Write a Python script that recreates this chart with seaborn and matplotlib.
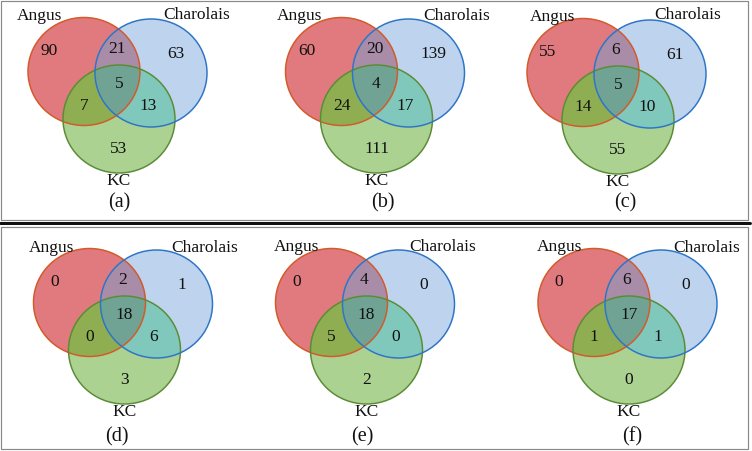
import numpy as np
import matplotlib.pyplot as plt
import seaborn as sns
from matplotlib.patches import Ellipse, Polygon

set_names = ["Angus", "Charolais", "KC"]
panel_tags = ["(a)", "(b)", "(c)", "(d)", "(e)", "(f)"]

# region counts, one entry per panel (a)..(f)
only_angus = [90, 60, 55, 0, 0, 0]
angus_charolais = [21, 20, 6, 2, 4, 6]
only_charolais = [63, 139, 61, 1, 0, 0]
all_three = [5, 4, 5, 18, 18, 17]
angus_kc = [7, 24, 14, 0, 5, 1]
charolais_kc = [13, 17, 10, 6, 0, 1]
only_kc = [53, 111, 55, 3, 2, 0]

sns.set_theme(style="white")
plt.rcParams["font.family"] = ["Liberation Serif", "DejaVu Serif"]

W, H = 752, 451
fig = plt.figure(figsize=(W / 100, H / 100), dpi=100)
ax = fig.add_axes([0, 0, 1, 1])
ax.set_xlim(0, W)
ax.set_ylim(H, 0)
ax.axis("off")

px = 0.72  # one pixel in points

# layout (pixel coords): KC circle centre for each panel
centres = [(119, 119), (376.5, 119), (618, 120), (124.5, 350), (366.5, 350), (629, 350)]
circle_off = {"Angus": (-35, -47.5), "Charolais": (32, -46), "KC": (0, 0)}
circle_w, circle_h = 112, 108

fill = {"Angus": "#e07a7e", "Charolais": "#bed4ee", "KC": "#acd292",
        "AC": "#a98ca8", "AK": "#8fae52", "CK": "#80c8bc", "ACK": "#70a394"}
edge = {"Angus": "#d35a2a", "Charolais": "#2e75c6", "KC": "#5b8c35"}

angus_lab = [(-79, -103), (-76.5, -103), (-65, -103), (-72.5, -102), (-69.5, -103), (-69, -103)]
char_lab = [(78, -104), (80.5, -103), (70, -105), (80.5, -102), (76.5, -103), (78, -102)]
tag_off = [(0, 84), (6.5, 84), (7, 83), (-7.5, 87), (-4.5, 87), (3, 87)]

region_off = [(-70, -68), (-2, -70), (57, -65), (0, -35), (-35, -13), (29, -13), (0, 30)]


def inside(pts, c):
    return ((pts[:, 0] - c[0]) / (circle_w / 2)) ** 2 + ((pts[:, 1] - c[1]) / (circle_h / 2)) ** 2 <= 1.0001


def triple_region(cs):
    t = np.linspace(0, 2 * np.pi, 2000)
    pts = []
    for i, c in enumerate(cs):
        ring = np.column_stack([c[0] + circle_w / 2 * np.cos(t), c[1] + circle_h / 2 * np.sin(t)])
        keep = np.ones(len(ring), bool)
        for j, o in enumerate(cs):
            if j != i:
                keep &= inside(ring, o)
        pts.append(ring[keep])
    pts = np.vstack(pts)
    m = pts.mean(axis=0)
    order = np.argsort(np.arctan2(pts[:, 1] - m[1], pts[:, 0] - m[0]))
    return pts[order]


for i, (cx, cy) in enumerate(centres):
    pos = {k: (cx + v[0], cy + v[1]) for k, v in circle_off.items()}
    base = {}
    for name in ["Angus", "Charolais", "KC"]:
        base[name] = ax.add_patch(Ellipse(pos[name], circle_w, circle_h, facecolor=fill[name], lw=0))
    for key, a, b in [("AC", "Charolais", "Angus"), ("AK", "KC", "Angus"), ("CK", "KC", "Charolais")]:
        p = ax.add_patch(Ellipse(pos[a], circle_w, circle_h, facecolor=fill[key], lw=0))
        p.set_clip_path(base[b])
    ax.add_patch(Polygon(triple_region([pos["Angus"], pos["Charolais"], pos["KC"]]),
                         closed=True, facecolor=fill["ACK"], lw=0))
    for name in ["Angus", "KC", "Charolais"]:
        ax.add_patch(Ellipse(pos[name], circle_w, circle_h, facecolor="none",
                             edgecolor=edge[name], lw=1.5 * px))

    counts = [only_angus[i], angus_charolais[i], only_charolais[i], all_three[i],
              angus_kc[i], charolais_kc[i], only_kc[i]]
    for (dx, dy), n in zip(region_off, counts):
        ax.text(cx + dx, cy + dy, str(n), ha="center", va="center", fontsize=12.5, color="#111111")
    ax.text(cx + angus_lab[i][0], cy + angus_lab[i][1], set_names[0], ha="center", va="center", fontsize=12.5, color="#111111")
    ax.text(cx + char_lab[i][0], cy + char_lab[i][1], set_names[1], ha="center", va="center", fontsize=12.5, color="#111111")
    ax.text(cx, cy + 62, set_names[2], ha="center", va="center", fontsize=12.5, color="#111111")
    ax.text(cx + tag_off[i][0], cy + tag_off[i][1], panel_tags[i], ha="center", va="center", fontsize=14.5, color="#111111")

# panel frames and divider
grey = "#8a8a8a"
ax.plot([1, 748, 748, 1, 1], [1, 1, 220, 220, 1], color=grey, lw=1.2 * px)
ax.plot([1, 748, 748, 1, 1], [226.5, 226.5, 449, 449, 226.5], color=grey, lw=1.2 * px)
ax.plot([0, 750], [223.3, 223.3], color="#111111", lw=3 * px)

fig.savefig("out.png", dpi=100)
